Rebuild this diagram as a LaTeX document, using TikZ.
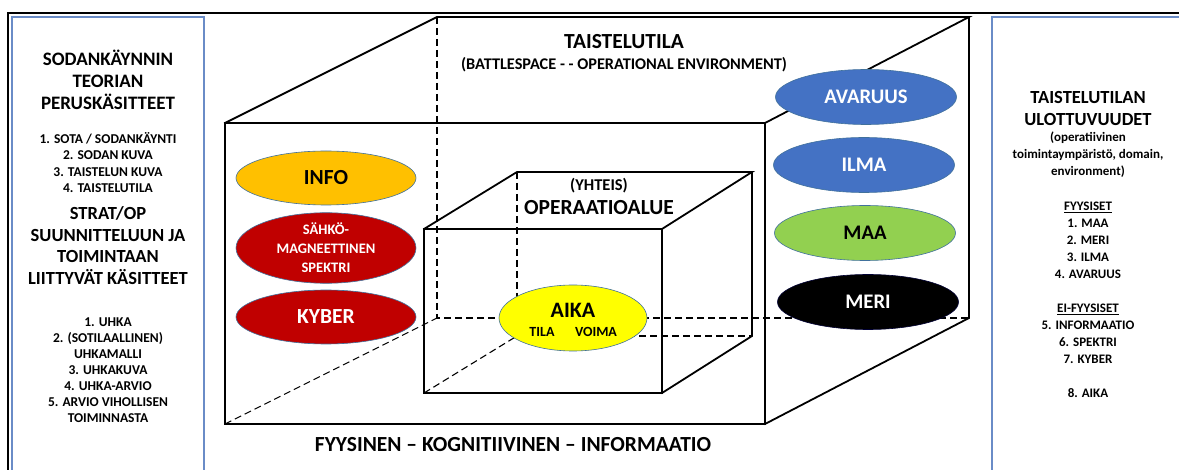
\documentclass[tikz,border=0pt]{standalone}
\usepackage{fontspec}
\setmainfont{Carlito}
\usetikzlibrary{shapes.geometric}
\definecolor{cOrange}{HTML}{FFC000}
\definecolor{cRed}{HTML}{C00000}
\definecolor{cBlue}{HTML}{4472C4}
\definecolor{cGreen}{HTML}{92D050}
\definecolor{cYellow}{HTML}{FFFF00}
\definecolor{cOutline}{HTML}{41719C}
\definecolor{cPanel}{HTML}{6A8CC7}
\begin{document}
\begin{tikzpicture}[x=1pt,y=-1pt,
  cube/.style={line width=1.8pt, line join=miter, line cap=rect},
  hidden/.style={line width=1.1pt, dash pattern=on 7pt off 4pt},
  blob/.style={ellipse, draw=cOutline, line width=0.6pt, inner sep=0pt,
               minimum width=181pt, minimum height=55pt},
  big/.style={font=\bfseries\fontsize{21.5}{25}\selectfont, inner sep=0pt},
  rbig/.style={font=\bfseries\fontsize{20.7}{24}\selectfont, inner sep=0pt},
  mid/.style={font=\bfseries\fontsize{16.5}{19}\selectfont, inner sep=0pt},
  small/.style={font=\bfseries\fontsize{14}{17}\selectfont, inner sep=0pt},
  ttl/.style={font=\bfseries\fontsize{18.5}{21.8}\selectfont, align=center, inner sep=0pt},
  lst/.style={font=\bfseries\fontsize{13.5}{16.3}\selectfont, align=center, inner sep=0pt},
  rlst/.style={font=\bfseries\fontsize{13}{17}\selectfont, align=center, inner sep=0pt},
  panel/.style={draw=cPanel, line width=1.3pt},
]
\useasboundingbox (0,0) rectangle (1179,470);
\fill[white] (0,0) rectangle (1179,470);

% outer frame
\draw[line width=2pt] (8,470) -- (8,13) -- (1179,13);

% side panels
\draw[panel] (12,470) -- (12,17) -- (204,17) -- (204,470);
\draw[panel] (1179,17) -- (992,17) -- (992,470);

% big cube corners
\coordinate (F1) at (225,123);
\coordinate (F2) at (765,123);
\coordinate (F3) at (765,424);
\coordinate (F4) at (225,424);
\coordinate (B1) at (437,17);
\coordinate (B2) at (969,17);
\coordinate (B3) at (969,318);
\coordinate (B4) at (437,318);
% inner cube corners
\coordinate (f1) at (424,229);
\coordinate (f2) at (662,229);
\coordinate (f3) at (662,393);
\coordinate (f4) at (424,393);
\coordinate (b1) at (517,172);
\coordinate (b2) at (752,172);
\coordinate (b3) at (752,336);
\coordinate (b4) at (517,336);

% hidden edges
\draw[hidden] (B1) -- (B4) -- (B3);
\draw[hidden] (F4) -- (B4);
\draw[hidden] (b1) -- (b4) -- (b3);
\draw[hidden] (f4) -- (b4);

% visible edges big cube
\draw[cube] (F1) -- (F2) -- (F3) -- (F4) -- cycle;
\draw[cube] (F1) -- (B1) -- (B2) -- (F2);
\draw[cube] (B2) -- (B3) -- (F3);
% visible edges inner cube
\draw[cube] (f1) -- (f2) -- (f3) -- (f4) -- cycle;
\draw[cube] (f1) -- (b1) -- (b2) -- (f2);
\draw[cube] (b2) -- (b3) -- (f3);

% titles in cube
\node[big] (tt) at (624,42) {TAISTELUTILA};
\node[font=\bfseries\fontsize{16.3}{19}\selectfont, inner sep=0pt] (bs) at (624,65) {(BATTLESPACE - - OPERATIONAL ENVIRONMENT)};
\node[mid] (yht) at (599,186) {(YHTEIS)};
\node[big] (opa) at (599,208) {OPERAATIOALUE};
\node[big] (fki) at (513,445) {FYYSINEN – KOGNITIIVINEN – INFORMAATIO};

% left ellipses
\node[blob, fill=cOrange, minimum width=180pt, minimum height=54pt, big] (info) at (326,178) {INFO};
\node[blob, fill=cRed, text=white, minimum width=180pt, minimum height=54pt, align=center,
      font=\bfseries\fontsize{14.5}{19}\selectfont] (sahko) at (326,248) {SÄHKÖ-\\MAGNEETTINEN\\SPEKTRI};
\node[blob, fill=cRed, text=white, minimum width=180pt, minimum height=54pt, big] (kyber) at (326,317) {KYBER};

% right ellipses
\node[blob, fill=cBlue, text=white, rbig] (avaruus) at (866,97) {AVARUUS};
\node[blob, fill=cBlue, text=white, rbig] (ilma) at (864,165) {ILMA};
\node[blob, fill=cGreen, rbig] (maa) at (865,233) {MAA};
\node[blob, fill=black, draw=black!80!blue, text=white, rbig] (meri) at (868,302) {MERI};

% AIKA ellipse
\node[blob, fill=cYellow, minimum width=148pt, minimum height=66pt] (aika) at (573,318) {};
\node[font=\bfseries\fontsize{22}{26}\selectfont, inner sep=0pt] (aikat) at (573,310) {AIKA};
\node[small] (tila) at (542,332) {TILA};
\node[small] (voima) at (596,332) {VOIMA};

% left panel texts
\node[ttl, font=\bfseries\fontsize{19}{22}\selectfont] (l1) at (108,80) {SODANKÄYNNIN\\TEORIAN\\PERUSKÄSITTEET};
\node[lst] (l2) at (108,162.5) {1. SOTA / SODANKÄYNTI\\2. SODAN KUVA\\3. TAISTELUN KUVA\\4. TAISTELUTILA};
\node[ttl] (l3) at (108,245.5) {STRAT/OP\\SUUNNITTELUUN JA\\TOIMINTAAN\\LIITTYVÄT KÄSITTEET};
\node[lst, font=\bfseries\fontsize{13.5}{16}\selectfont] (l4) at (108,370) {1. UHKA\\2. (SOTILAALLINEN)\\UHKAMALLI\\3. UHKAKUVA\\4. UHKA-ARVIO\\5. ARVIO VIHOLLISEN\\TOIMINNASTA};

% right panel texts
\node[ttl, font=\bfseries\fontsize{18.5}{22}\selectfont] (r1) at (1088,109) {TAISTELUTILAN\\ULOTTUVUUDET};
\node[rlst] (r2) at (1088,155) {(operatiivinen\\toimintaympäristö, domain,\\environment)};
\node[rlst] (r3) at (1088,240) {\underline{FYYSISET}\\1. MAA\\2. MERI\\3. ILMA\\4. AVARUUS};
\node[rlst] (r4) at (1088,333.5) {\underline{EI-FYYSISET}\\5. INFORMAATIO\\6. SPEKTRI\\7. KYBER};
\node[rlst] (r5) at (1088,393) {8. AIKA};
\end{tikzpicture}
\end{document}
